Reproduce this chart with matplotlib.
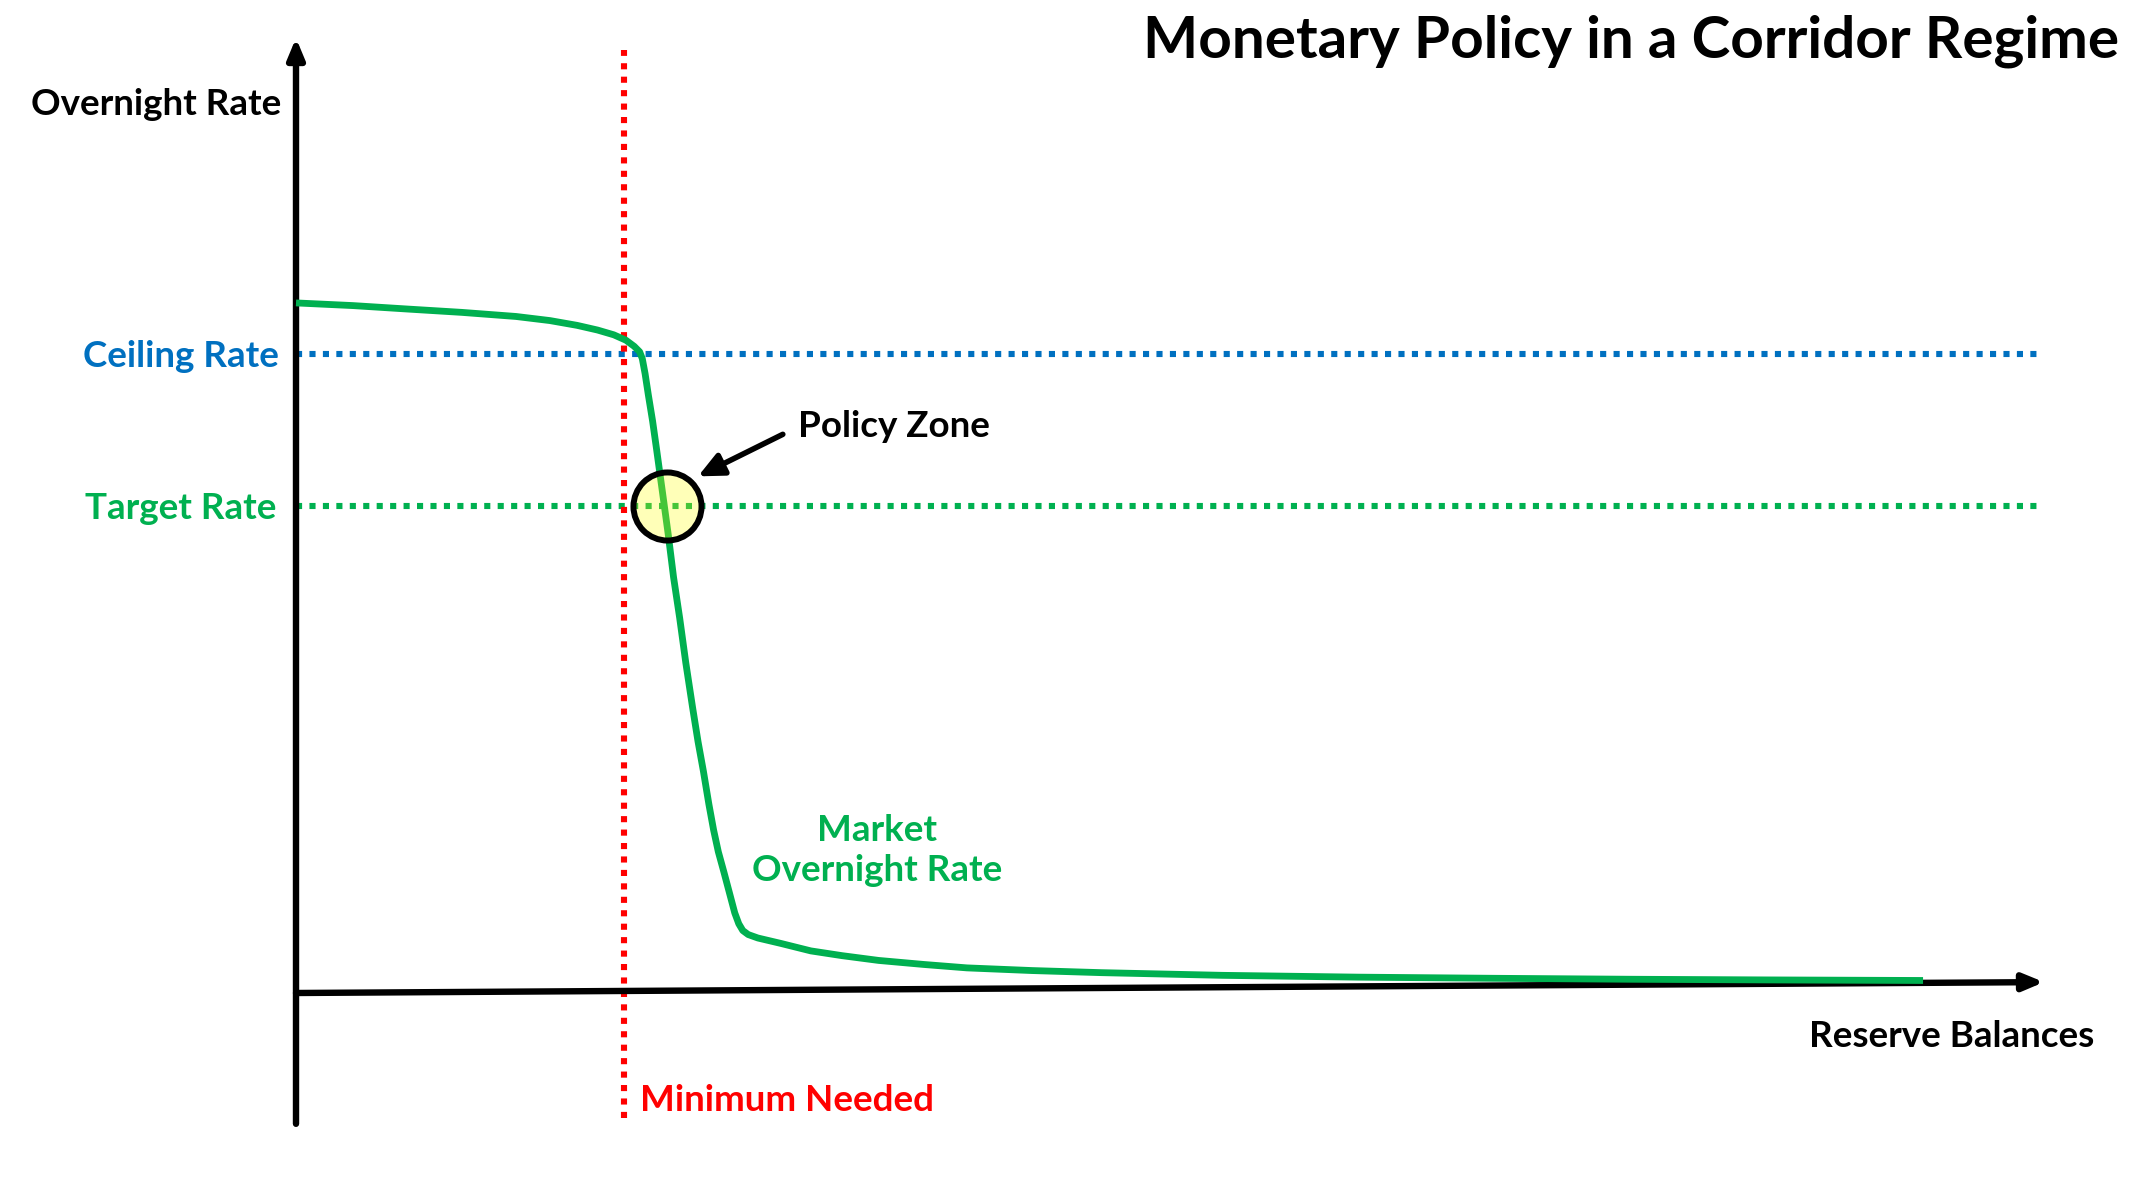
import matplotlib
matplotlib.use('Agg')
import matplotlib.pyplot as plt

# curva de la tasa overnight de mercado (reservas, tasa)
reservas = [0, 3.26, 6.37, 9.48, 12.59, 14.53, 16.08, 17.25, 18.18, 18.88,
            19.35, 19.66, 19.81, 19.97, 20.16, 20.40, 20.63, 20.94, 21.29,
            21.60, 21.95, 22.30, 22.69, 23.00, 23.31, 23.62, 23.89, 24.16,
            24.48, 24.79, 25.10, 25.33, 25.56, 25.87, 26.42, 27.74, 29.45,
            31.24, 33.33, 35.90, 38.38, 42.11, 46.08, 52.99, 60.76, 68.53,
            76.30, 84.07, 93.08]
tasa = [72.26, 71.98, 71.62, 71.27, 70.84, 70.41, 69.91, 69.42, 68.92, 68.35,
        67.71, 67.14, 66.43, 64.86, 62.59, 59.89, 56.90, 52.77, 48.08, 43.53,
        39.26, 34.57, 29.87, 26.32, 23.19, 19.77, 17.07, 14.79, 12.66, 10.53,
        8.39, 7.25, 6.54, 6.12, 5.76, 5.19, 4.41, 3.91, 3.41, 2.99, 2.63,
        2.35, 2.13, 1.85, 1.66, 1.54, 1.44, 1.37, 1.31]

techo = 66.9        # Ceiling Rate
objetivo = 51.0     # Target Rate
minimo = 18.76      # Minimum Needed
zona = (21.25, 51.0)  # Policy Zone

AZUL = '#0070C0'
VERDE = '#00B050'
ROJO = '#FF0000'
FUENTE = ['Lato', 'DejaVu Sans']
TAM = 26.5
BAJA = 0.3  # pequeño ajuste vertical de las etiquetas

W, H = 2130, 1194
# anclas en pixeles: x=0 -> 296, x=100 -> 2044 ; y=0 -> 993, y=100 -> 38
x0px, x100px = 296, 2044
y0px, y100px = 993, 38

fig = plt.figure(figsize=(W / 100, H / 100), dpi=100)
ax = fig.add_axes([0, 0, 1, 1])
ux = 100 / (x100px - x0px)
uy = 100 / (y0px - y100px)
ax.set_xlim(-x0px * ux, (W - x0px) * ux)
ax.set_ylim(-(H - y0px) * uy, y0px * uy)
ax.axis('off')

punteado = dict(lw=4.4, linestyle=(0, (1, 1.2)), dash_capstyle='butt')

# lineas horizontales y vertical
ax.plot([0, 99.8], [techo, techo], color=AZUL, **punteado)
ax.plot([0, 99.8], [objetivo, objetivo], color=VERDE, **punteado)
ax.plot([minimo, minimo], [-13.1, 98.7], color=ROJO, **punteado)

# ejes con flecha
flecha = dict(arrowstyle='-|>,head_length=1.2,head_width=0.5', lw=4.6,
              color='black', mutation_scale=10, shrinkA=0, shrinkB=0)
ax.annotate('', xy=(100, 1.14), xytext=(0, 0), arrowprops=flecha)
ax.annotate('', xy=(0, 100), xytext=(0, -13.7), arrowprops=flecha)

# curva
ax.plot(reservas, tasa, color=VERDE, lw=4.9, solid_capstyle='butt',
        solid_joinstyle='round', zorder=4)

# zona de politica
ax.plot([zona[0]], [zona[1]], marker='o', markersize=49,
        markerfacecolor=(1, 1, 0, 0.28), markeredgecolor='black',
        markeredgewidth=4.3, zorder=5)
ax.annotate('', xy=(23.0, 54.1), xytext=(27.85, 58.5),
            arrowprops=dict(arrowstyle='-|>,head_length=1.5,head_width=0.7',
                            lw=4.0, color='black', mutation_scale=10,
                            shrinkA=0, shrinkB=0))

# textos
ax.text(-0.85, 93.3 - BAJA, 'Overnight Rate', ha='right', va='center',
        fontsize=TAM, fontweight='bold', color='black', family=FUENTE)
ax.text(-1.0, techo - BAJA, 'Ceiling Rate', ha='right', va='center',
        fontsize=TAM, fontweight='bold', color=AZUL, family=FUENTE)
ax.text(-1.1, objetivo - BAJA, 'Target Rate', ha='right', va='center',
        fontsize=TAM, fontweight='bold', color=VERDE, family=FUENTE)
ax.text(28.7, 59.6 - BAJA, 'Policy Zone', ha='left', va='center', fontsize=TAM,
        fontweight='bold', color='black', family=FUENTE)
ax.text(33.26, 15.2 - BAJA, 'Market\nOvernight Rate', ha='center',
        va='center', fontsize=TAM, fontweight='bold', color=VERDE,
        linespacing=1.25, family=FUENTE)
ax.text(102.9, -4.27 - BAJA, 'Reserve Balances', ha='right', va='center',
        fontsize=TAM, fontweight='bold', color='black', family=FUENTE)
ax.text(19.66, -10.95 - BAJA, 'Minimum Needed', ha='left', va='center',
        fontsize=TAM, fontweight='bold', color=ROJO, family=FUENTE)

fig.text(0.995, 1 - 41 / H, 'Monetary Policy in a Corridor Regime', ha='right',
         va='center', fontsize=42, fontweight='bold', color='black',
         family=FUENTE)

fig.savefig('out.png', dpi=100)
